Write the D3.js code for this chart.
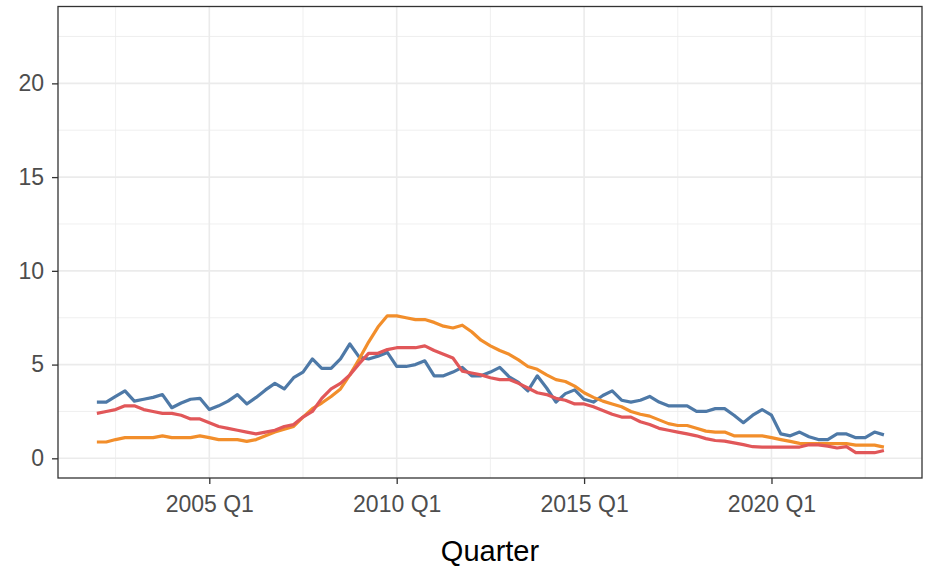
<!DOCTYPE html>
<html>
<head>
<meta charset="utf-8">
<script src="https://cdn.jsdelivr.net/npm/d3@7"></script>
<style>
  body { margin: 0; background: #fff; }
  text { font-family: "Liberation Sans", Arial, sans-serif; }
</style>
</head>
<body>
<svg id="vis" width="930" height="569"></svg>
<script>
// quarters run 2002 Q1 .. 2023 Q1
const START_YEAR = 2002;
const quarters = d3.range(85).map(i => ({year: START_YEAR + Math.floor(i / 4), q: i % 4 + 1}));

const blueValues = [
    3.0, 3.0, 3.3, 3.6,   3.05, 3.15, 3.25, 3.4,   2.7, 2.95, 3.15, 3.2,
    2.6, 2.8, 3.05, 3.4,  2.9, 3.25, 3.65, 4.0,    3.7, 4.3, 4.6, 5.3,
    4.8, 4.8, 5.3, 6.1,   5.4, 5.3, 5.45, 5.65,    4.9, 4.9, 5.0, 5.2,
    4.4, 4.4, 4.6, 4.85,  4.4, 4.4, 4.6, 4.85,     4.35, 4.05, 3.6, 4.4,
    3.75, 3.0, 3.45, 3.65, 3.15, 3.0, 3.35, 3.6,   3.1, 3.0, 3.1, 3.3,
    3.0, 2.8, 2.8, 2.8,   2.5, 2.5, 2.65, 2.65,    2.3, 1.9, 2.3, 2.6,
    2.3, 1.3, 1.2, 1.4,   1.15, 1.0, 1.0, 1.3,     1.3, 1.1, 1.1, 1.4,
    1.25
];
const orangeValues = [
    0.87, 0.87, 1.0, 1.1, 1.1, 1.1, 1.1, 1.2,      1.1, 1.1, 1.1, 1.2,
    1.1, 1.0, 1.0, 1.0,   0.9, 1.0, 1.2, 1.4,      1.55, 1.7, 2.2, 2.65,
    2.95, 3.3, 3.7, 4.45, 5.3, 6.2, 7.0, 7.6,      7.6, 7.5, 7.4, 7.4,
    7.25, 7.05, 6.95, 7.1, 6.75, 6.3, 6.0, 5.75,   5.55, 5.25, 4.9, 4.75,
    4.45, 4.2, 4.1, 3.85, 3.5, 3.25, 3.05, 2.9,    2.75, 2.5, 2.35, 2.25,
    2.05, 1.85, 1.75, 1.75, 1.6, 1.45, 1.4, 1.4,   1.2, 1.2, 1.2, 1.2,
    1.1, 1.0, 0.9, 0.8,   0.78, 0.78, 0.78, 0.78,  0.78, 0.7, 0.7, 0.7,
    0.6
];
const redValues = [
    2.4, 2.5, 2.6, 2.8,   2.8, 2.6, 2.5, 2.4,      2.4, 2.3, 2.1, 2.1,
    1.9, 1.7, 1.6, 1.5,   1.4, 1.3, 1.4, 1.5,      1.7, 1.8, 2.2, 2.5,
    3.2, 3.7, 4.0, 4.45,  5.05, 5.6, 5.6, 5.8,     5.9, 5.9, 5.9, 6.0,
    5.75, 5.55, 5.35, 4.65, 4.55, 4.45, 4.3, 4.2,  4.2, 4.0, 3.75, 3.5,
    3.4, 3.2, 3.1, 2.9,   2.9, 2.75, 2.55, 2.35,   2.2, 2.2, 1.95, 1.8,
    1.6, 1.5, 1.4, 1.3,   1.2, 1.05, 0.95, 0.92,   0.82, 0.73, 0.62, 0.6,
    0.6, 0.6, 0.6, 0.6,   0.72, 0.72, 0.65, 0.55,  0.62, 0.3, 0.3, 0.3,
    0.42
];

const seriesList = [
    {name: "blue", values: blueValues, color: "#4E79A7"},
    {name: "orange", values: orangeValues, color: "#F28E2B"},
    {name: "red", values: redValues, color: "#E15759"},
];

const xTickYears = [2005, 2010, 2015, 2020];
const xMinorYears = [2002.5, 2007.5, 2012.5, 2017.5, 2022.5];
const yTicks = [0, 5, 10, 15, 20];
const yMinor = [2.5, 7.5, 12.5, 17.5, 22.5];

const svg = d3.select("#vis");
const panel = {left: 58, right: 922, top: 6.5, bottom: 478};

const xscale = d3.scaleLinear().domain([2000.963, 2024.016]).range([panel.left, panel.right]);
const yscale = d3.scaleLinear().domain([-1.05, 24.1]).range([panel.bottom, panel.top]);

function qPos(d) {
    return d.year + (d.q - 1) / 4;
}

function main() {
    drawGrid();
    drawLines();
    drawAxes();
}

function drawGrid() {
    const g = svg.append("g");
    g.selectAll(".minorx").data(xMinorYears).join("line")
        .attr("x1", d => xscale(d)).attr("x2", d => xscale(d))
        .attr("y1", panel.top).attr("y2", panel.bottom)
        .attr("stroke", "#EBEBEB").attr("stroke-width", 0.8);
    g.selectAll(".minory").data(yMinor).join("line")
        .attr("y1", d => yscale(d)).attr("y2", d => yscale(d))
        .attr("x1", panel.left).attr("x2", panel.right)
        .attr("stroke", "#EBEBEB").attr("stroke-width", 0.8);
    g.selectAll(".majorx").data(xTickYears).join("line")
        .attr("x1", d => xscale(d)).attr("x2", d => xscale(d))
        .attr("y1", panel.top).attr("y2", panel.bottom)
        .attr("stroke", "#EBEBEB").attr("stroke-width", 1.6);
    g.selectAll(".majory").data(yTicks).join("line")
        .attr("y1", d => yscale(d)).attr("y2", d => yscale(d))
        .attr("x1", panel.left).attr("x2", panel.right)
        .attr("stroke", "#EBEBEB").attr("stroke-width", 1.6);
}

function drawLines() {
    const line = d3.line()
        .x((d, i) => xscale(qPos(quarters[i])))
        .y(d => yscale(d));
    svg.selectAll(".series").data(seriesList).join("path")
        .attr("class", "series")
        .attr("fill", "none")
        .attr("stroke", d => d.color)
        .attr("stroke-width", 3.2)
        .attr("stroke-linejoin", "round")
        .attr("d", d => line(d.values));
}

function drawAxes() {
    // panel border
    svg.append("rect")
        .attr("x", panel.left).attr("y", panel.top)
        .attr("width", panel.right - panel.left).attr("height", panel.bottom - panel.top)
        .attr("fill", "none").attr("stroke", "#333333").attr("stroke-width", 1.3);

    const xAxis = d3.axisBottom(xscale).tickValues(xTickYears)
        .tickSize(6).tickPadding(12).tickFormat(d => d + " Q1");
    const gx = svg.append("g").attr("transform", `translate(0,${panel.bottom})`).call(xAxis);
    gx.select(".domain").remove();
    gx.selectAll(".tick line").attr("stroke", "#333333").attr("stroke-width", 1.3);
    gx.selectAll(".tick text").attr("fill", "#4D4D4D").style("font-size", "23px");

    const yAxis = d3.axisLeft(yscale).tickValues(yTicks).tickSize(6).tickPadding(8);
    const gy = svg.append("g").attr("transform", `translate(${panel.left},0)`).call(yAxis);
    gy.select(".domain").remove();
    gy.selectAll(".tick line").attr("stroke", "#333333").attr("stroke-width", 1.3);
    gy.selectAll(".tick text").attr("fill", "#4D4D4D").style("font-size", "23px");

    svg.append("text")
        .attr("x", (panel.left + panel.right) / 2)
        .attr("y", 561)
        .attr("text-anchor", "middle")
        .style("font-size", "29px")
        .attr("fill", "#000")
        .text("Quarter");
}

main();
</script>
</body>
</html>
